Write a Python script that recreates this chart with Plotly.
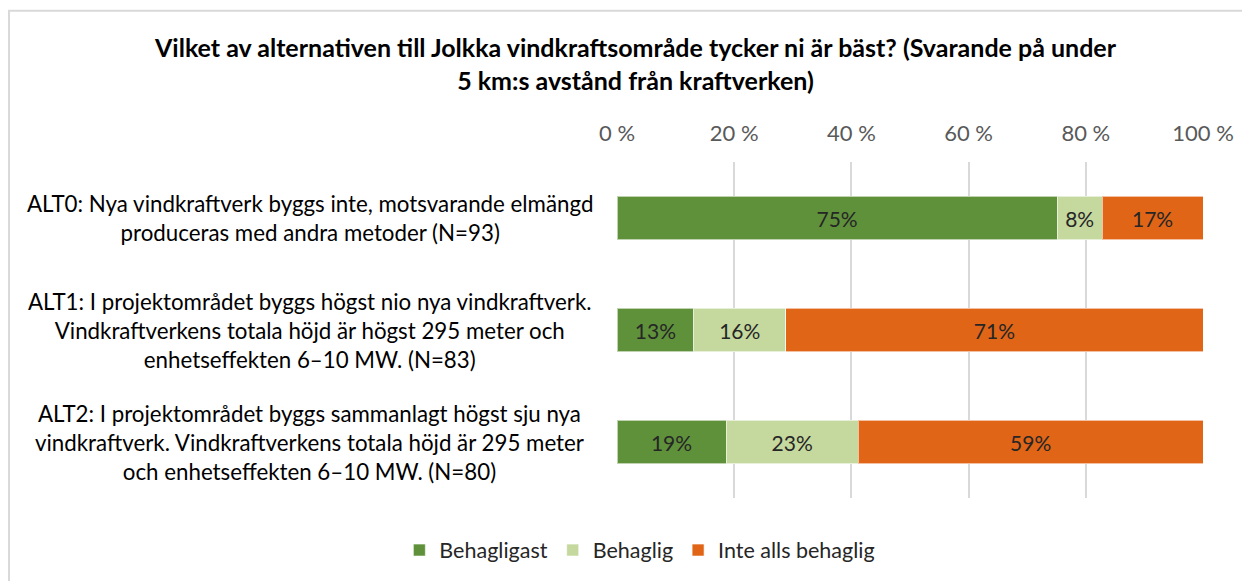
import plotly.graph_objects as go

categories = ["ALT0", "ALT1", "ALT2"]
category_labels = [
    "ALT0: Nya vindkraftverk byggs inte, motsvarande elmängd<br>produceras med andra metoder (N=93)",
    "ALT1: I projektområdet byggs högst nio nya vindkraftverk.<br>Vindkraftverkens totala höjd är högst 295 meter och<br>enhetseffekten 6–10 MW. (N=83)",
    "ALT2: I projektområdet byggs sammanlagt högst sju nya<br>vindkraftverk. Vindkraftverkens totala höjd är 295 meter<br>och enhetseffekten 6–10 MW. (N=80)",
]
series_names = ["Behagligast", "Behaglig", "Inte alls behaglig"]
behagligast = [75.1, 13.1, 18.6]
behaglig = [7.7, 15.7, 22.6]
inte_alls = [17.2, 71.2, 58.8]
tick_values = [0, 20, 40, 60, 80, 100]
tick_labels = ["0 %", "20 %", "40 %", "60 %", "80 %", "100 %"]
colors = ["#5F913B", "#C5D89E", "#E06516"]
title = "Vilket av alternativen till Jolkka vindkraftsområde tycker ni är bäst? (Svarande på under<br>5 km:s avstånd från kraftverken)"

FONT = "Lato"
fig = go.Figure()
for name, vals, col in zip(series_names, [behagligast, behaglig, inte_alls], colors):
    fig.add_trace(go.Bar(
        y=categories, x=vals, name=name, orientation="h",
        marker=dict(color=col, line=dict(color="rgba(255,255,255,0.6)", width=1)),
        texttemplate="%{x:.0f}%", textposition="inside", insidetextanchor="middle",
        textfont=dict(size=21, color="#262626", family=FONT),
        hoverinfo="skip",
    ))

for cat, lab in zip(categories, category_labels):
    fig.add_annotation(x=-0.524, xref="paper", y=cat, yref="y", text=lab,
                       showarrow=False, xanchor="center", yanchor="middle", align="center",
                       font=dict(size=22.3, color="#000000", family=FONT))

fig.add_shape(type="rect", xref="paper", yref="paper", x0=-1.0375, x1=1.12, y0=-0.35, y1=1.45,
              line=dict(color="#D9D9D9", width=2), fillcolor="rgba(0,0,0,0)", layer="below")

fig.update_layout(
    width=1250, height=581,
    margin=dict(l=609, r=55, t=154, b=91),
    barmode="stack", bargap=0.61,
    paper_bgcolor="white", plot_bgcolor="white",
    title=dict(text=title, x=0.502, xref="container", xanchor="center", y=0.915, yanchor="top",
               font=dict(size=25, color="#000000", family=FONT, weight="bold")),
    xaxis=dict(side="top", range=[0, 100], tickmode="array", tickvals=tick_values, ticktext=tick_labels,
               showgrid=True, gridcolor="#D9D9D9", gridwidth=1.5, zeroline=False,
               tickfont=dict(size=22, color="#595959", family=FONT), ticklabelstandoff=16,
               showline=False, fixedrange=True),
    yaxis=dict(autorange="reversed", showticklabels=False, showgrid=False, zeroline=False),
    legend=dict(orientation="h", x=0.039, xanchor="center", y=-0.155, yanchor="middle",
                font=dict(size=21.5, color="#262626", family=FONT), traceorder="normal",
                itemwidth=30),
    showlegend=True,
)
fig.write_html("out.html")
